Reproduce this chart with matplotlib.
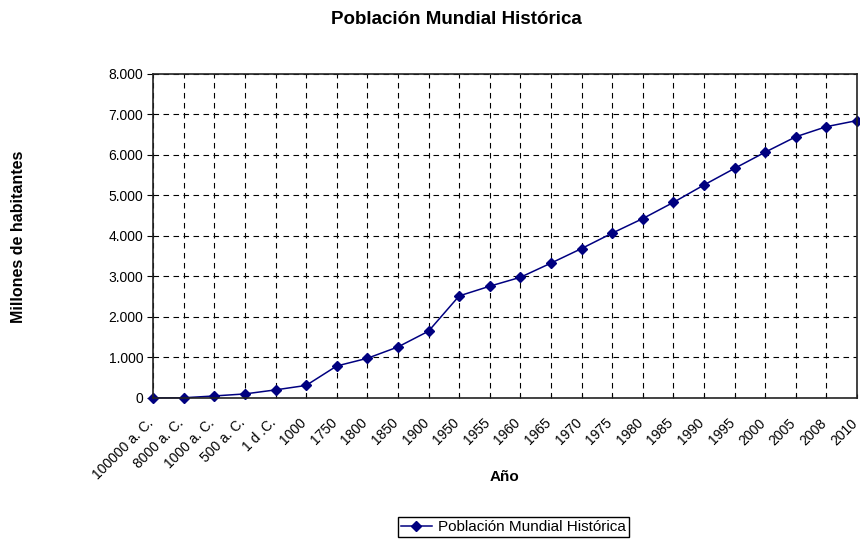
import matplotlib
matplotlib.use("Agg")
from matplotlib import pyplot as plt
from matplotlib.ticker import FuncFormatter, MultipleLocator
import matplotlib.transforms as mtransforms

plt.rcParams['font.family'] = ['Liberation Sans', 'DejaVu Sans']

# data (millions of people)
anios = ['100000 a. C.', '8000 a. C.', '1000 a. C.', '500 a. C.', '1 d .C.',
         '1000', '1750', '1800', '1850', '1900', '1950', '1955', '1960',
         '1965', '1970', '1975', '1980', '1985', '1990', '1995', '2000',
         '2005', '2008', '2010']
poblacion = [1, 5, 50, 100, 200, 310, 790, 980, 1260, 1650, 2520, 2760,
             2980, 3330, 3690, 4070, 4430, 4830, 5260, 5670, 6070, 6450,
             6700, 6850]

fig = plt.figure(figsize=(8.6, 5.4), dpi=100)
ax = fig.add_axes([0.178, 0.263, 0.8186, 0.600])

x = range(len(anios))
ax.plot(x, poblacion, color='#000080', marker='D', markersize=5,
        linewidth=1.1, label='Población Mundial Histórica', clip_on=False)

ax.set_xlim(0, len(anios) - 1)
ax.set_ylim(0, 8000)
ax.yaxis.set_major_locator(MultipleLocator(1000))
ax.yaxis.set_major_formatter(FuncFormatter(lambda v, p: f'{int(v):,}'.replace(',', '.')))
ax.set_xticks(list(x))
ax.set_xticklabels(anios, rotation=45, ha='right', rotation_mode='anchor', fontsize=10)
ax.tick_params(axis='y', labelsize=10, length=4, direction='out', color='black', pad=3)
ax.tick_params(axis='x', length=3, direction='in', pad=10)

# push the slanted labels a bit further down-left, like the original
shift = mtransforms.ScaledTranslation(-7 / 100, -4 / 100, fig.dpi_scale_trans)
for lab in ax.get_xticklabels():
    lab.set_transform(lab.get_transform() + shift)

ax.grid(True, color='black', linestyle=(0, (5, 4)), linewidth=0.8)
ax.set_axisbelow(True)
for s in ax.spines.values():
    s.set_color('#222222')
    s.set_linewidth(1.2)

fig.text(0.531, 0.963, 'Población Mundial Histórica', ha='center', va='center',
         fontsize=13.5, fontweight='bold')
fig.text(0.587, 0.117, 'Año', ha='center', va='center', fontsize=11,
         fontweight='bold')
fig.text(0.021, 0.561, 'Millones de habitantes', ha='center', va='center',
         rotation=90, fontsize=11.5, fontweight='bold')

fig.legend(loc='center', bbox_to_anchor=(0.597, 0.024), fontsize=11,
           frameon=True, fancybox=False, edgecolor='black', framealpha=1,
           handlelength=2.0, handletextpad=0.4, borderpad=0.2, borderaxespad=0)

fig.savefig('out.png', dpi=100)
